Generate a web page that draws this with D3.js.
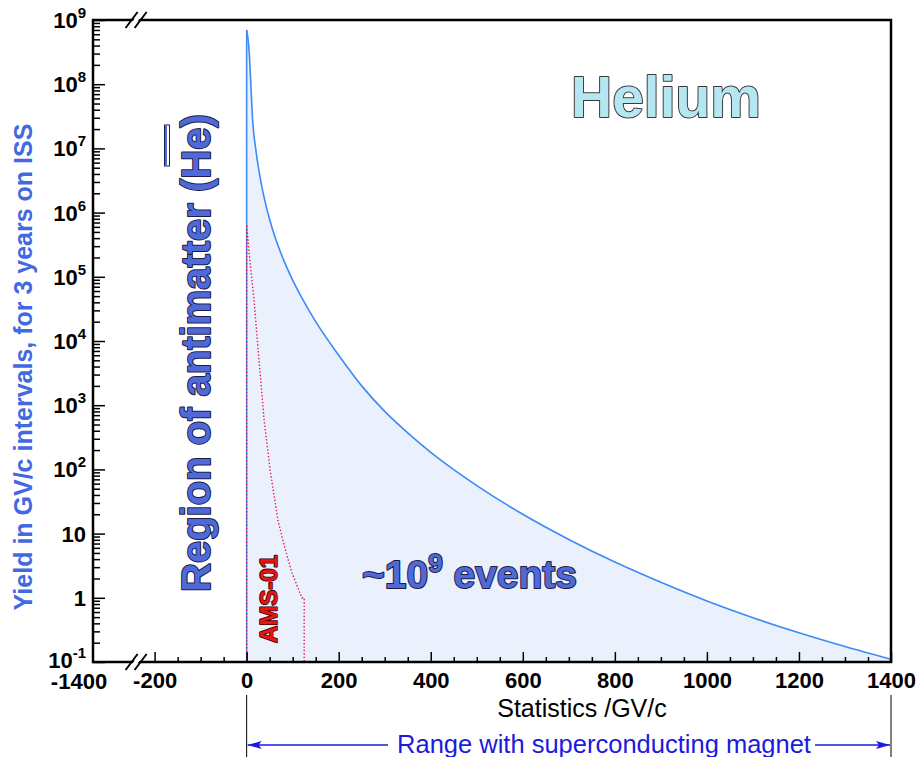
<!DOCTYPE html>
<html>
<head>
<meta charset="utf-8">
<script src="https://cdn.jsdelivr.net/npm/d3@7/dist/d3.min.js"></script>
<style>
  body { margin: 0; background: #fff; }
  svg { display: block; }
  text { font-family: "Liberation Sans", Arial, Helvetica, sans-serif; }
</style>
</head>
<body>
<div id="vis"></div>
<script>
// Helium yield for 3 years on ISS (per GV/c interval)
const rigidity = [0, 3, 6, 10, 13, 20, 30, 40, 50, 60, 80, 100, 120, 150, 200, 250, 300, 350,
                  400, 450, 500, 600, 700, 800, 900, 1000, 1100, 1200, 1300, 1400];
const heliumYield = [7.0e8, 5.0e8, 2.8e8, 7.1e7, 2.75e7, 9.5e6, 3.3e6, 1.48e6, 7.8e5, 4.5e5, 1.85e5,
                     8.9e4, 4.7e4, 2.0e4, 6.0e3, 2.0e3, 800, 370, 184, 99, 56, 20, 8.1, 3.6, 1.74,
                     0.89, 0.49, 0.285, 0.174, 0.11];

// AMS-01 reach (dotted red), closed down to the axis floor
const amsRigidity = [0, 0, 7, 16, 25, 38, 51, 68, 83, 98, 120, 125, 125];
const amsYield = [0.1, 6.5e5, 1.8e5, 4.4e4, 7.2e3, 5.9e2, 98, 16, 6.0, 2.5, 1.0, 1.0, 0.1];

const xMajorTicks = [-200, 0, 200, 400, 600, 800, 1000, 1200, 1400];
const xMinorTicks = [-150, -100, -50, 50, 100, 150, 250, 300, 350, 450, 500, 550, 650, 700, 750,
                     850, 900, 950, 1050, 1100, 1150, 1250, 1300, 1350];
const yDecades = [0.1, 1, 10, 1e2, 1e3, 1e4, 1e5, 1e6, 1e7, 1e8, 1e9];
const yLabelBase = ["10", "1", "10", "10", "10", "10", "10", "10", "10", "10", "10"];
const yLabelExp = ["-1", "", "", "2", "3", "4", "5", "6", "7", "8", "9"];

const W = 917, H = 757;
const svg = d3.select("#vis").append("svg").attr("width", W).attr("height", H);

// broken x axis: -1400 | -200 ... 1400
const x = d3.scaleLinear().domain([-1400, -200, 1400]).range([93, 154.6, 891]);
const y = d3.scaleLog().domain([0.1, 1e9]).range([662, 20]);

const plotL = x(-1400), plotR = x(1400), plotT = y(1e9), plotB = y(0.1);

const yMinor = [];
yDecades.slice(0, -1).forEach(d => { for (let k = 2; k <= 9; k++) yMinor.push(d * k); });

const heData = rigidity.map((r, i) => ({ r, v: heliumYield[i] }));
const amsData = amsRigidity.map((r, i) => ({ r, v: amsYield[i] }));

// fills
svg.append("path")
    .datum(heData)
    .attr("d", d3.area().x(d => x(d.r)).y0(plotB).y1(d => y(d.v)).curve(d3.curveMonotoneX))
    .attr("fill", "#eaf1fd");

svg.append("path")
    .datum(amsData)
    .attr("d", d3.line().x(d => x(d.r)).y(d => y(d.v)) + "Z")
    .attr("fill", "#f8e2ee");

// helium curve
svg.append("line")
    .attr("x1", x(0)).attr("x2", x(0))
    .attr("y1", plotB).attr("y2", y(heliumYield[0]))
    .attr("stroke", "#3d8af7").attr("stroke-width", 1.5);

svg.append("path")
    .datum(heData)
    .attr("d", d3.line().x(d => x(d.r)).y(d => y(d.v)).curve(d3.curveMonotoneX))
    .attr("fill", "none")
    .attr("stroke", "#3d8af7")
    .attr("stroke-width", 1.6);

// AMS-01 dotted
svg.append("path")
    .datum(amsData)
    .attr("d", d3.line().x(d => x(d.r)).y(d => y(d.v)))
    .attr("fill", "none")
    .attr("stroke", "#e8174f")
    .attr("stroke-width", 1.4)
    .attr("stroke-dasharray", "1.4,2");

// axes ticks
svg.append("g")
    .attr("transform", `translate(0,${plotB})`)
    .call(d3.axisBottom(x).tickValues(xMinorTicks).tickSize(-5).tickFormat(""))
    .call(g => g.select(".domain").remove())
    .selectAll("line").attr("stroke", "#000").attr("stroke-width", 1.5);

const xAx = svg.append("g")
    .attr("transform", `translate(0,${plotB})`)
    .call(d3.axisBottom(x).tickValues(xMajorTicks).tickSize(-10).tickPadding(10).tickFormat(d3.format("d")))
    .call(g => g.select(".domain").remove());
xAx.selectAll("line").attr("stroke", "#000").attr("stroke-width", 1.5);
xAx.selectAll("text")
    .attr("font-size", 22).attr("font-weight", "bold").attr("fill", "#000")
    .attr("font-family", "'Liberation Sans', Arial, sans-serif")
    .text(d => String(d));

svg.append("text")
    .attr("x", x(-1400) - 14).attr("y", plotB + 11).attr("dy", "0.71em")
    .attr("text-anchor", "middle")
    .attr("font-size", 22).attr("font-weight", "bold")
    .text("-1400");

svg.append("g")
    .attr("transform", `translate(${plotL},0)`)
    .call(d3.axisLeft(y).tickValues(yMinor).tickSize(-7).tickFormat(""))
    .call(g => g.select(".domain").remove())
    .selectAll("line").attr("stroke", "#000").attr("stroke-width", 1.5);

svg.append("g")
    .attr("transform", `translate(${plotL},0)`)
    .call(d3.axisLeft(y).tickValues(yDecades).tickSize(-12).tickFormat(""))
    .call(g => g.select(".domain").remove())
    .selectAll("line").attr("stroke", "#000").attr("stroke-width", 1.5);

// y labels with superscripts
const yl = svg.append("g").selectAll("text")
    .data(yDecades)
    .join("text")
    .attr("x", 86)
    .attr("y", d => y(d) + (d < 1 ? 6 : 8))
    .attr("text-anchor", "end")
    .attr("font-size", 22)
    .attr("font-weight", "bold");
yl.append("tspan").text((d, i) => yLabelBase[i]);
yl.append("tspan")
    .attr("dy", -10)
    .attr("font-size", 15)
    .text((d, i) => yLabelExp[i]);

// frame
svg.append("rect")
    .attr("x", plotL).attr("y", plotT)
    .attr("width", plotR - plotL).attr("height", plotB - plotT)
    .attr("fill", "none").attr("stroke", "#000").attr("stroke-width", 2.5);

// axis break marks
const bx = x(-200) - 19;
[plotT, plotB].forEach(yy => {
    svg.append("polygon")
        .attr("points", `${bx - 8},${yy + 8} ${bx + 4},${yy - 8} ${bx + 9},${yy - 8} ${bx - 3},${yy + 8}`)
        .attr("fill", "#fff");
    [0, 9].forEach(off => {
        svg.append("line")
            .attr("x1", bx - 10 + off).attr("y1", yy + 8)
            .attr("x2", bx + 2 + off).attr("y2", yy - 8)
            .attr("stroke", "#000").attr("stroke-width", 2);
    });
});

// axis titles
svg.append("text")
    .attr("transform", "translate(32,367) rotate(-90)")
    .attr("text-anchor", "middle")
    .attr("font-size", 25).attr("font-weight", "bold")
    .attr("fill", "#4169e1")
    .text("Yield in GV/c intervals, for 3 years on ISS");

svg.append("text")
    .attr("x", 582).attr("y", 717)
    .attr("text-anchor", "middle")
    .attr("font-size", 25)
    .attr("fill", "#000")
    .text("Statistics /GV/c");

// annotations
const outlined = sel => sel.attr("paint-order", "stroke").attr("stroke-linejoin", "round");

svg.append("text")
    .attr("x", 666).attr("y", 117)
    .attr("text-anchor", "middle")
    .attr("font-size", 57).attr("font-weight", "bold")
    .attr("fill", "#b4e7f1").attr("stroke", "#3a3a3a").attr("stroke-width", 2)
    .call(outlined)
    .text("Helium");

svg.append("text")
    .attr("transform", "translate(210,592) rotate(-90)")
    .attr("font-size", 40).attr("font-weight", "bold")
    .attr("fill", "#5069d8").attr("stroke", "#1c1c44").attr("stroke-width", 2)
    .call(outlined)
    .text("Region of antimatter (He)");

// bar over "He" (anti-helium)
svg.append("rect")
    .attr("x", 164.5).attr("y", 125).attr("width", 5).attr("height", 41)
    .attr("fill", "#fff").attr("stroke", "#1c1c44").attr("stroke-width", 1);
svg.append("line")
    .attr("x1", 166).attr("x2", 166).attr("y1", 125.5).attr("y2", 165.5)
    .attr("stroke", "#5069d8").attr("stroke-width", 2);

const ev = svg.append("text")
    .attr("x", 362).attr("y", 588)
    .attr("font-size", 39).attr("font-weight", "bold")
    .attr("fill", "#5069d8").attr("stroke", "#1c1c44").attr("stroke-width", 2)
    .call(outlined);
ev.append("tspan").text("~10");
ev.append("tspan").attr("dy", -16).attr("font-size", 26).text("9");
ev.append("tspan").attr("dy", 16).text(" events");

svg.append("text")
    .attr("transform", "translate(277,643) rotate(-90)")
    .attr("font-size", 24).attr("font-weight", "bold")
    .attr("fill", "#e81414").attr("stroke", "#2a0000").attr("stroke-width", 1.6)
    .call(outlined)
    .text("AMS-01");

// range with superconducting magnet
const defs = svg.append("defs");
defs.append("marker")
    .attr("id", "arr")
    .attr("viewBox", "0 0 14 10")
    .attr("refX", 14).attr("refY", 5)
    .attr("markerWidth", 14).attr("markerHeight", 10)
    .attr("markerUnits", "userSpaceOnUse")
    .attr("orient", "auto")
    .append("path").attr("d", "M0,1 L14,5 L0,9 L3,5 Z").attr("fill", "#1a1ae0");

const ay = 745;
svg.append("line")
    .attr("x1", 388).attr("x2", x(0) + 1).attr("y1", ay).attr("y2", ay)
    .attr("stroke", "#1a1ae0").attr("stroke-width", 1.5).attr("marker-end", "url(#arr)");
svg.append("line")
    .attr("x1", 815).attr("x2", x(1400) - 1).attr("y1", ay).attr("y2", ay)
    .attr("stroke", "#1a1ae0").attr("stroke-width", 1.5).attr("marker-end", "url(#arr)");

svg.append("text")
    .attr("x", 604).attr("y", 753)
    .attr("text-anchor", "middle")
    .attr("font-size", 25.5)
    .attr("fill", "#1a1ae0")
    .text("Range with superconducting magnet");

[0, 1400].forEach(v => {
    svg.append("line")
        .attr("x1", x(v)).attr("x2", x(v)).attr("y1", 695).attr("y2", H)
        .attr("stroke", "#000").attr("stroke-width", 1);
});
</script>
</body>
</html>
